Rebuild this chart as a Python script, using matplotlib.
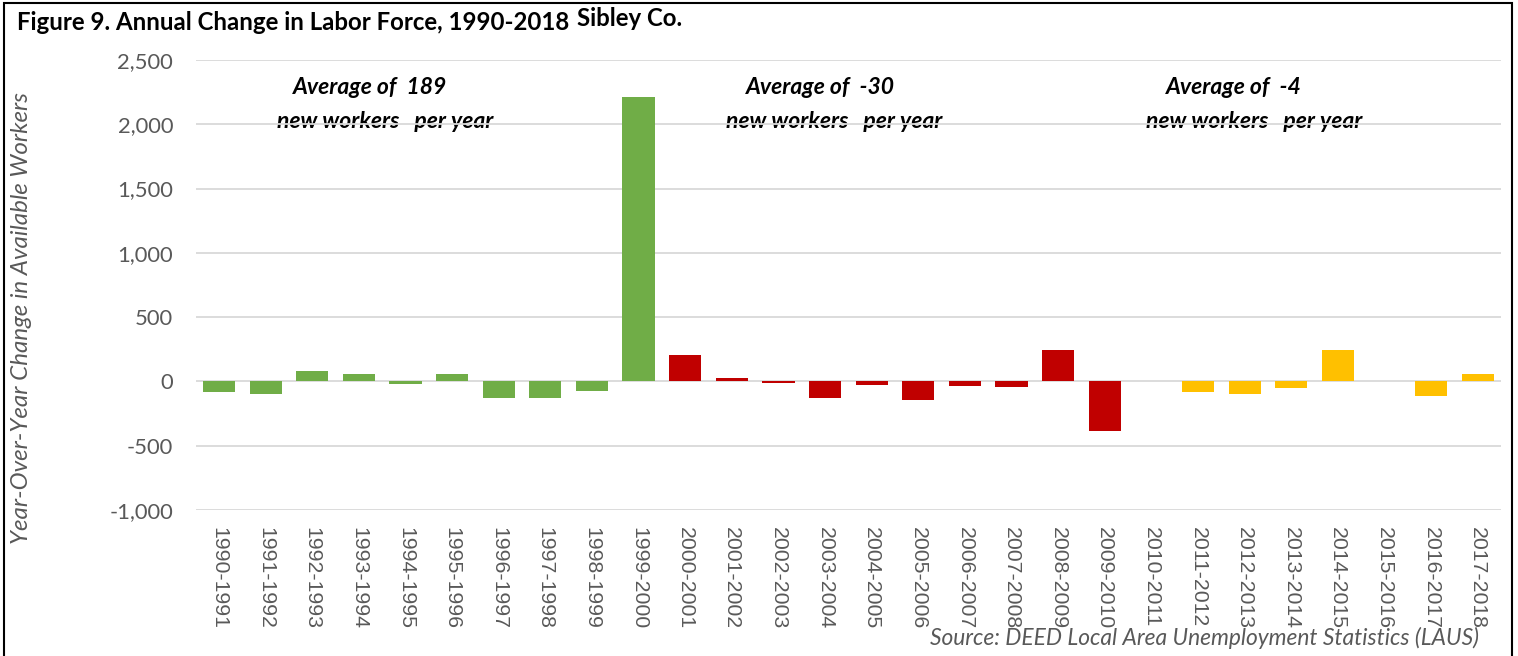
import matplotlib
matplotlib.use("Agg")
import matplotlib.pyplot as plt
from matplotlib.patches import Rectangle
from matplotlib.ticker import FuncFormatter

periods = ["1990-1991", "1991-1992", "1992-1993", "1993-1994", "1994-1995", "1995-1996",
           "1996-1997", "1997-1998", "1998-1999", "1999-2000", "2000-2001", "2001-2002",
           "2002-2003", "2003-2004", "2004-2005", "2005-2006", "2006-2007", "2007-2008",
           "2008-2009", "2009-2010", "2010-2011", "2011-2012", "2012-2013", "2013-2014",
           "2014-2015", "2015-2016", "2016-2017", "2017-2018"]
changes = [-85, -95, 80, 57, -20, 57, -125, -125, -75, 2210,
           205, 30, -10, -130, -30, -145, -35, -45, 245, -385,
           0, -80, -100, -50, 242, 5, -110, 60]
decade_colors = ["#70AD47"] * 10 + ["#C00000"] * 10 + ["#FFC000"] * 8
averages = ["189", "-30", "-4"]

W, H = 1518, 656
fig = plt.figure(figsize=(W / 100, H / 100), dpi=100)
ax = fig.add_axes([195.7 / W, 1 - 510 / H, (1501 - 195.7) / W, (510 - 60) / H])

font = "Lato"
gray = "#595959"

x = list(range(len(periods)))
ax.bar(x, changes, width=0.69, color=decade_colors, zorder=2)

ax.set_ylim(-1000, 2500)
ax.set_yticks(range(-1000, 2501, 500))
ax.yaxis.set_major_formatter(FuncFormatter(lambda v, p: f"{int(v):,}"))
ax.set_xlim(-0.5, len(periods) - 0.5)
ax.set_xticks(x)
ax.set_xticklabels(periods, rotation=-90, fontsize=15.3, color=gray,
                   family="Liberation Sans")
for lab in ax.get_yticklabels():
    lab.set_fontsize(15.8)
    lab.set_color(gray)
    lab.set_family(font)
ax.tick_params(axis="both", length=0)
ax.tick_params(axis="y", pad=16.3)
ax.tick_params(axis="x", pad=12.5)
ax.set_axisbelow(True)
ax.grid(axis="y", color="#D9D9D9", linewidth=1.3, zorder=0.5)
for s in ax.spines.values():
    s.set_visible(False)

fig.text(22 / W, 1 - 318 / H, "Year-Over-Year Change in Available Workers", fontsize=17.4,
         color=gray, style="italic", family=font, rotation=90, ha="center", va="center")

# annotations
ann_pos = [(3.24, 3.56), (12.9, 13.2), (21.76, 22.2)]
for (xa, xb), avg in zip(ann_pos, averages):
    ax.text(xa, 2290, f"Average of  {avg}", ha="center", va="center", fontsize=16.5,
            fontweight="bold", style="italic", family=font, zorder=0.3)
    ax.text(xb, 2018, "new workers   per year", ha="center", va="center", fontsize=16.5,
            fontweight="bold", style="italic", family=font, zorder=0.3)

fig.text(17 / W, 1 - 22 / H, "Figure 9. Annual Change in Labor Force, 1990-2018",
         fontsize=17.3, fontweight="bold", family=font, va="center", ha="left")
fig.text(577 / W, 1 - 18 / H, "Sibley Co.", fontsize=17.3, fontweight="bold",
         family=font, va="center", ha="left")
fig.text(1479 / W, 1 - 638 / H, "Source: DEED Local Area Unemployment Statistics (LAUS)",
         fontsize=16.4, style="italic", color=gray, family=font, va="center", ha="right")

fig.patches.append(Rectangle((4 / W, -0.01), (1512 - 4) / W, 1 - 3 / H + 0.01,
                             transform=fig.transFigure, fill=False,
                             edgecolor="black", linewidth=1.5))

fig.savefig("out.png", dpi=100)
